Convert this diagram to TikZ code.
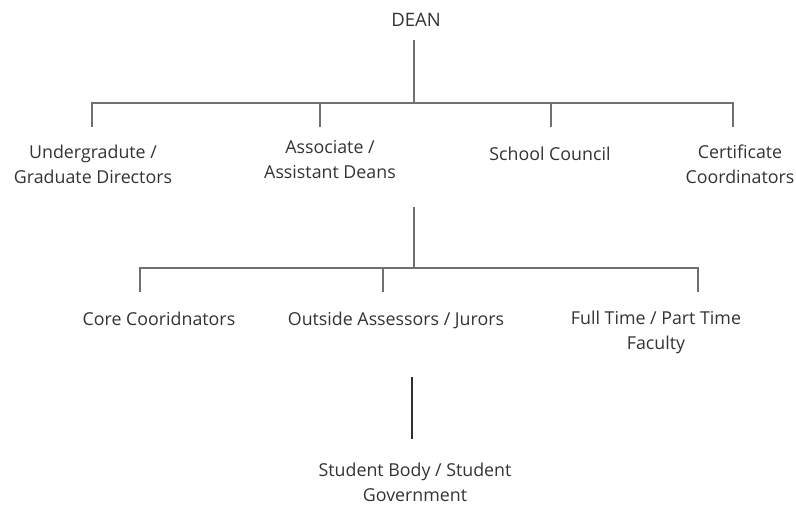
\documentclass[tikz,border=0pt]{standalone}
\usepackage{fontspec}
\setmainfont{Open Sans}
\definecolor{txt}{HTML}{333333}
\definecolor{ln}{HTML}{707070}
\definecolor{lndark}{HTML}{303030}
\tikzset{
  lbl/.style={anchor=base, align=center, inner sep=0pt, text=txt, font=\fontsize{17.8}{24.5}\selectfont},
  conn/.style={draw=ln, line width=1.4pt},
  conndark/.style={draw=lndark, line width=1.3pt}
}
\begin{document}
\begin{tikzpicture}[x=1pt,y=-1pt]
\useasboundingbox (0,0) rectangle (796,506);
% level 0 (anchor base = baseline of the last line)
\node[lbl, font=\fontsize{18.5}{25}\selectfont] (dean) at (416,27) {DEAN};
% level 1 labels
\node[lbl] (ug) at (93,183) {Undergradute /\\Graduate Directors};
\node[lbl] (assoc) at (330,178) {Associate /\\Assistant Deans};
\node[lbl] (sc) at (550,160) {School Council};
\node[lbl] (cert) at (740,183) {Certificate\\Coordinators};
% level 2 labels
\node[lbl] (core) at (159,325) {Core Cooridnators};
\node[lbl] (out) at (396,325) {Outside Assessors / Jurors};
\node[lbl] (full) at (656,349) {Full Time / Part Time\\Faculty};
% level 3
\node[lbl] (stu) at (415,501) {Student Body / Student\\Government};
% junction coordinates
\coordinate (d0) at (414,40);
\coordinate (d1) at (414,103);
\coordinate (b1l) at (92,103);
\coordinate (b1r) at (733,103);
\coordinate (u1) at (92,127);
\coordinate (a1) at (320,127);
\coordinate (s1) at (551,127);
\coordinate (c1) at (733,127);
\coordinate (e0) at (414,207);
\coordinate (e1) at (414,268);
\coordinate (b2l) at (140,268);
\coordinate (b2r) at (698,268);
\coordinate (k1) at (140,292);
\coordinate (o1) at (383,292);
\coordinate (f1) at (698,292);
\coordinate (g0) at (412,377);
\coordinate (g1) at (412,439);
% connectors
\draw[conn] (d0) -- (d1);
\draw[conn] (u1) -- (b1l) -- (b1r) -- (c1);
\draw[conn] (a1) -- (a1 |- d1);
\draw[conn] (s1) -- (s1 |- d1);
\draw[conn] (e0) -- (e1);
\draw[conn] (k1) -- (b2l) -- (b2r) -- (f1);
\draw[conn] (o1) -- (o1 |- e1);
\draw[conndark] (g0) -- (g1);
\end{tikzpicture}
\end{document}
